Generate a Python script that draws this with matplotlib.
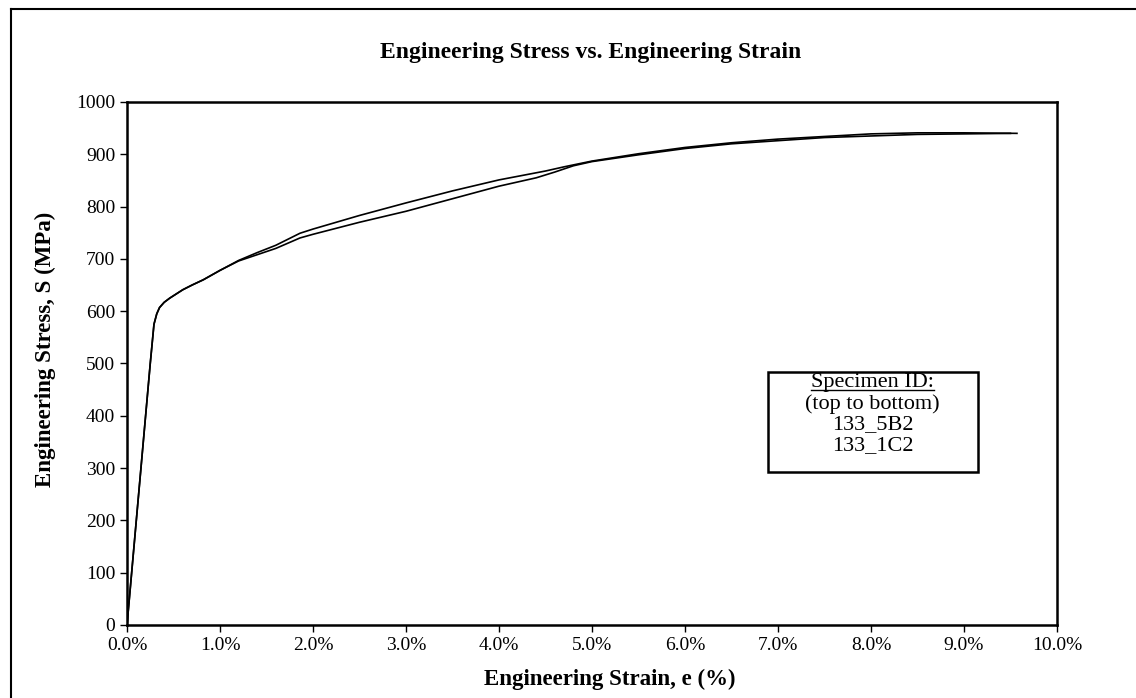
import matplotlib
matplotlib.use("Agg")
import matplotlib.pyplot as plt
from matplotlib.lines import Line2D
from matplotlib.patches import Rectangle
from matplotlib.ticker import FuncFormatter

plt.rcParams['font.family'] = ['Liberation Serif', 'DejaVu Serif']

# specimen 133_5B2 (upper curve)
strain_a = [0, 0.05, 0.10, 0.15, 0.20, 0.25, 0.29, 0.32, 0.35, 0.40, 0.46, 0.53,
            0.60, 0.70, 0.82, 1.0, 1.2, 1.4, 1.6, 1.86, 2.0, 2.5, 3.0, 3.5, 4.0,
            4.5, 4.7, 5.0, 5.5, 6.0, 6.5, 7.0, 7.5, 8.0, 8.5, 9.0, 9.57]
stress_a = [0, 100, 200, 300, 400, 500, 575, 595, 607, 617, 625, 633,
            641, 650, 660, 678, 697, 712, 726, 749, 757, 783, 807, 830, 851,
            868, 876, 887, 901, 913, 922, 929, 934, 939, 941, 941, 940]

# specimen 133_1C2 (lower curve)
strain_b = [0, 0.05, 0.10, 0.15, 0.20, 0.25, 0.29, 0.32, 0.35, 0.40, 0.46, 0.53,
            0.60, 0.70, 0.82, 1.0, 1.2, 1.4, 1.6, 1.86, 2.0, 2.5, 3.0, 3.5, 4.0,
            4.4, 4.6, 4.8, 5.0, 5.5, 6.0, 6.5, 7.0, 7.5, 8.0, 8.5, 9.0, 9.5]
stress_b = [0, 100, 200, 300, 400, 500, 575, 595, 607, 617, 625, 633,
            641, 650, 660, 678, 696, 708, 720, 740, 747, 770, 791, 815, 839,
            855, 866, 878, 886, 899, 911, 920, 926, 932, 935, 938, 939, 940]

legend_lines = ['(top to bottom)', '133_5B2', '133_1C2']

fig = plt.figure(figsize=(11.36, 6.98), dpi=100)
ax = fig.add_axes([0.1118, 0.1046, 0.8186, 0.7493])

ax.plot(strain_a, stress_a, color='black', lw=1.2)
ax.plot(strain_b, stress_b, color='black', lw=1.2)

ax.set_xlim(0, 10)
ax.set_ylim(0, 1000)
ax.set_xticks(range(0, 11))
ax.set_yticks(range(0, 1001, 100))
ax.xaxis.set_major_formatter(FuncFormatter(lambda v, p: f'{v:.1f}%'))
ax.tick_params(direction='out', length=5, width=1, labelsize=14, colors='black')
for s in ax.spines.values():
    s.set_linewidth(1.8)
    s.set_color('black')

fig.text(0.52, 0.925, 'Engineering Stress vs. Engineering Strain',
         ha='center', va='center', fontsize=17, fontweight='bold')
fig.text(0.537, 0.026, 'Engineering Strain, e (%)', ha='center', va='center',
         fontsize=16.5, fontweight='bold')
fig.text(0.04, 0.499, 'Engineering Stress, S (MPa)', ha='center', va='center',
         rotation=90, fontsize=16.5, fontweight='bold')

# specimen legend box
ax.add_patch(Rectangle((0.689, 0.2925), 0.226, 0.1912, transform=ax.transAxes,
                       fill=False, edgecolor='black', lw=1.8))
head = ax.text(0.802, 0.4627, 'Specimen ID:', transform=ax.transAxes,
               ha='center', va='center', fontsize=16)
for i, t in enumerate(legend_lines):
    ax.text(0.802, 0.4225 - i * 0.0401, t, transform=ax.transAxes,
            ha='center', va='center', fontsize=16)

# underline the heading
fig.canvas.draw()
bb = head.get_window_extent().transformed(fig.transFigure.inverted())
uy = bb.y0 + 0.004
fig.add_artist(Line2D([bb.x0, bb.x1], [uy, uy], transform=fig.transFigure,
                      color='black', lw=1))

# outer frame (left and top edges visible)
fig.add_artist(Line2D([11 / 1136, 11 / 1136], [0, 1 - 9 / 698], transform=fig.transFigure,
                      color='black', lw=1.5))
fig.add_artist(Line2D([11 / 1136, 1], [1 - 9 / 698, 1 - 9 / 698], transform=fig.transFigure,
                      color='black', lw=1.5))

fig.savefig('out.png', dpi=100)
